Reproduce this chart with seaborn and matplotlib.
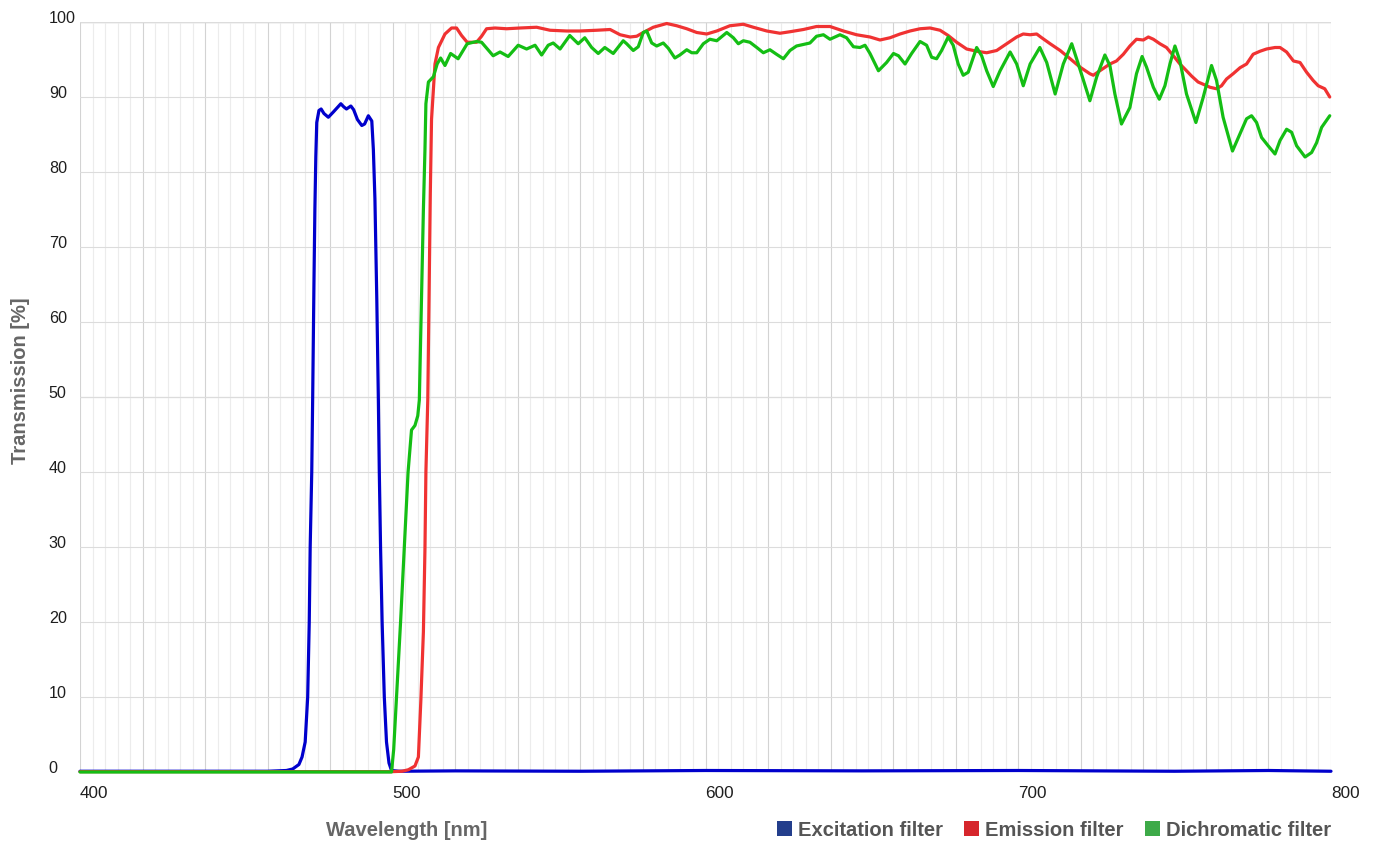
import matplotlib
matplotlib.use("Agg")
import numpy as np
import pandas as pd
import matplotlib.pyplot as plt
import seaborn as sns
from matplotlib.patches import Patch
from matplotlib.ticker import MultipleLocator, FuncFormatter

# ---------------- data ----------------
series_names = ["Excitation filter", "Emission filter", "Dichromatic filter"]

excitation_nm = [400, 430, 460, 466, 468, 470, 471, 472, 472.8, 473.3, 473.6, 474.1, 474.4,
                 474.8, 475.1, 475.4, 475.7, 476.4, 477.1, 478.0, 479.4, 481.0, 483.4, 484.3,
                 485.2, 486.6, 487.5, 488.7, 490.1, 491.0, 492.2, 493.3, 493.8, 494.3, 494.9,
                 495.4, 495.7, 496.1, 496.6, 497.3, 498.0, 498.8, 499.6, 502, 520, 560, 600,
                 650, 700, 750, 780, 800]
excitation_pct = [0.1, 0.1, 0.1, 0.2, 0.4, 1.0, 2.0, 4.0, 10, 20, 30, 40, 50,
                  65, 75, 82, 86.6, 88.2, 88.4, 87.8, 87.3, 88.0, 89.1, 88.7,
                  88.4, 88.8, 88.3, 87.0, 86.2, 86.4, 87.5, 86.8, 83.0, 76.4, 63.0,
                  49.6, 40, 30, 20, 10, 4, 1.2, 0.2, 0.1, 0.15, 0.1, 0.2,
                  0.15, 0.2, 0.1, 0.2, 0.1]

emission_nm = [400, 500, 503, 505, 507.1, 508.2, 509.0, 509.8, 510.3, 510.6, 511.2, 511.6,
               512.0, 512.4, 513.5, 514.6, 516.7, 518.8, 520.4, 522.0, 523.8, 526.8, 528.4,
               530.0, 532.7, 536.4, 540.7, 546.0, 550.3, 555.6, 559.8, 565.2, 569.5, 572.7,
               575.9, 578.0, 580.1, 583.3, 587.6, 590.8, 594.0, 597.2, 600.4, 603.6, 607.8,
               612.1, 615.3, 619.6, 623.8, 627.0, 631.3, 635.5, 639.8, 644.1, 648.3, 652.6,
               655.8, 659.0, 662.2, 665.4, 668.6, 671.8, 675.0, 677.6, 680.3, 683.5, 686.7,
               689.9, 693.1, 696.3, 699.5, 701.6, 703.8, 705.9, 707.5, 710.2, 713.4, 716.6,
               719.7, 722.9, 724.0, 726.1, 729.3, 731.4, 733.6, 735.7, 737.8, 740.0, 741.6,
               743.2, 745.3, 747.4, 749.6, 751.7, 753.8, 755.4, 757.5, 759.7, 761.3, 763.4,
               765.0, 766.6, 768.7, 770.9, 773.0, 775.1, 777.3, 779.4, 782.1, 783.7, 785.8,
               788.0, 790.1, 792.2, 794.3, 795.9, 798.0, 799.6]
emission_pct = [0.05, 0.05, 0.1, 0.3, 0.8, 2.0, 9.7, 18.7, 29.8, 40, 49.6, 63,
                77, 87, 94.4, 96.6, 98.4, 99.2, 99.2, 98.2, 97.3, 97.3, 98.1,
                99.1, 99.2, 99.1, 99.2, 99.3, 98.9, 98.8, 98.8, 98.9, 99.0, 98.3,
                98.0, 98.1, 98.6, 99.3, 99.8, 99.5, 99.1, 98.6, 98.4, 98.8, 99.5,
                99.7, 99.3, 98.8, 98.5, 98.7, 99.0, 99.4, 99.4, 98.8, 98.3, 98.0,
                97.6, 97.9, 98.4, 98.8, 99.1, 99.2, 98.9, 98.2, 97.3, 96.4, 96.1,
                95.9, 96.2, 97.1, 98.0, 98.4, 98.3, 98.4, 97.9, 97.1, 96.2, 95.1,
                94.0, 93.1, 92.9, 93.5, 94.4, 94.8, 95.7, 96.8, 97.7, 97.6, 98.0,
                97.7, 97.1, 96.6, 95.5, 94.4, 93.5, 92.8, 92.0, 91.6, 91.3, 91.1,
                91.5, 92.4, 93.1, 93.9, 94.4, 95.7, 96.1, 96.4, 96.6, 96.6, 96.0,
                94.8, 94.6, 93.3, 92.2, 91.5, 91.1, 90.0]

dichroic_nm = [400, 499.6, 500.3, 501.2, 502.5, 503.7, 504.9, 506.0, 507.1, 508.0, 508.5,
               509.2, 509.8, 510.3, 510.6, 511.4, 513.0, 514.2, 515.3, 516.7, 518.5, 520.9,
               523.8, 526.8, 528.4, 532.1, 534.3, 536.9, 540.1, 542.8, 545.5, 547.6, 549.7,
               551.3, 553.5, 556.6, 559.3, 561.4, 563.6, 565.7, 567.8, 570.5, 573.7, 574.8,
               576.9, 578.5, 580.1, 581.2, 582.8, 584.4, 586.5, 588.1, 590.2, 591.8, 594.0,
               595.6, 597.2, 599.3, 601.4, 603.6, 606.8, 608.9, 610.5, 612.1, 614.2, 616.4,
               618.5, 620.6, 622.7, 624.9, 627.0, 629.1, 631.3, 633.4, 635.5, 637.7, 639.8,
               643.0, 645.1, 647.3, 649.4, 651.0, 652.6, 655.3, 657.9, 660.1, 661.7, 663.8,
               665.9, 668.6, 670.7, 672.3, 673.9, 675.5, 677.6, 679.2, 680.8, 682.4, 684.0,
               686.7, 688.3, 689.9, 692.0, 694.2, 697.4, 699.5, 701.6, 703.8, 706.9, 709.1,
               711.8, 714.4, 717.1, 719.2, 722.9, 725.1, 727.7, 729.3, 730.9, 733.0, 735.7,
               737.8, 739.6, 741.0, 743.2, 745.1, 746.9, 748.5, 750.1, 751.7, 753.8, 756.8,
               759.1, 761.8, 763.4, 765.5, 768.5, 770.9, 773.0, 774.6, 776.2, 777.8, 779.9,
               782.1, 783.7, 785.8, 787.4, 789.0, 791.7, 793.8, 795.4, 797.0, 799.6]
dichroic_pct = [0.0, 0.0, 3, 10, 20, 30, 40, 45.6, 46.2, 47.5, 49.6,
                63, 75, 83, 89.1, 92.0, 92.7, 94.4, 95.2, 94.2, 95.8, 95.1,
                97.1, 97.4, 97.3, 95.5, 96.0, 95.4, 96.9, 96.4, 96.9, 95.6, 96.9,
                97.2, 96.4, 98.2, 97.1, 97.9, 96.6, 95.8, 96.6, 95.8, 97.5, 97.1,
                96.2, 96.7, 98.6, 98.8, 97.2, 96.8, 97.2, 96.5, 95.2, 95.6, 96.3,
                95.9, 95.9, 97.1, 97.7, 97.5, 98.6, 97.9, 97.1, 97.5, 97.3, 96.6,
                95.9, 96.3, 95.7, 95.1, 96.2, 96.8, 97.0, 97.2, 98.1, 98.3, 97.7,
                98.3, 97.9, 96.7, 96.6, 96.9, 95.8, 93.5, 94.6, 95.8, 95.5, 94.4,
                95.8, 97.4, 96.9, 95.3, 95.1, 96.2, 98.0, 96.9, 94.4, 92.9, 93.3,
                96.6, 95.5, 93.5, 91.4, 93.5, 96.0, 94.4, 91.5, 94.4, 96.6, 94.6,
                90.4, 94.4, 97.1, 94.4, 89.5, 92.7, 95.6, 94.2, 90.4, 86.4, 88.6,
                93.1, 95.4, 94.0, 91.3, 89.7, 91.5, 94.4, 96.8, 94.8, 90.4, 86.6,
                89.9, 94.2, 92.2, 87.3, 82.8, 85.1, 87.1, 87.5, 86.6, 84.6, 83.5,
                82.4, 84.2, 85.7, 85.3, 83.5, 82.0, 82.6, 83.9, 85.95, 87.5]

y_ticks = list(range(0, 101, 10))
x_tick_labels = ["400", "500", "600", "700", "800"]

line_colors = ["#0000CC", "#F03232", "#14BE14"]
legend_colors = ["#233E8C", "#D6262C", "#3DAA48"]

# ---------------- styling ----------------
sns.set_theme(style="white")
plt.rcParams["font.family"] = ["Liberation Sans", "DejaVu Sans"]

W, H = 1374, 845
fig = plt.figure(figsize=(W / 100, H / 100), dpi=100)
L, R, T, B = 80, 1331, 23, 773
ax = fig.add_axes([L / W, 1 - B / H, (R - L) / W, (B - T) / H])

series = [(excitation_nm, excitation_pct), (emission_nm, emission_pct), (dichroic_nm, dichroic_pct)]
for (nm, pct), name, col in zip(series, series_names, line_colors):
    df = pd.DataFrame({"nm": nm, "pct": pct})
    sns.lineplot(data=df, x="nm", y="pct", color=col, lw=2.3, estimator=None,
                 sort=False, ax=ax, legend=False)
    ax.lines[-1].set_clip_on(False)
    ax.lines[-1].set_solid_joinstyle("round")
    ax.lines[-1].set_solid_capstyle("round")

ax.set_xlim(400, 800)
ax.set_ylim(0, 100)

for s in ax.spines.values():
    s.set_visible(False)

ax.xaxis.set_major_locator(MultipleLocator(20))
ax.xaxis.set_minor_locator(MultipleLocator(4))
ax.xaxis.set_major_formatter(FuncFormatter(lambda v, p: x_tick_labels[int(round((v - 400) / 100))]
                                           if abs(v % 100) < 1e-6 else ""))
ax.set_yticks(y_ticks)
ax.set_yticklabels([str(v) for v in y_ticks])

ax.grid(which="minor", axis="x", color="#ececec", lw=0.8)
ax.grid(which="major", axis="x", color="#d3d3d3", lw=0.8)
ax.grid(which="major", axis="y", color="#dcdcdc", lw=0.8)
ax.axhline(50, color="#b8b8b8", lw=0.8, zorder=0.5)
ax.axhline(100, color="#c8c8c8", lw=1.0, zorder=0.5)
ax.set_axisbelow(True)

ax.tick_params(axis="both", which="both", length=0)
ax.tick_params(axis="x", pad=9.5, labelsize=12.3, labelcolor="#1e1e1e")
ax.tick_params(axis="y", pad=22.5, labelsize=11.6, labelcolor="#1e1e1e")

ax.set_xlabel("Wavelength [nm]", fontsize=14.5, fontweight="bold", color="#666666")
ax.set_ylabel("Transmission [%]", fontsize=14.5, fontweight="bold", color="#666666")
ax.xaxis.set_label_coords((407 - L) / (R - L), (B - 831) / (B - T))
ax.xaxis.label.set_va("center")
ax.yaxis.set_label_coords((21 - L) / (R - L), (B - 381) / (B - T))
ax.yaxis.label.set_va("center")

handles = [Patch(facecolor=c, edgecolor="none", label=n) for c, n in zip(legend_colors, series_names)]
leg = ax.legend(handles=handles, loc="center right", bbox_to_anchor=(1.0, (B - 831) / (B - T)),
                ncol=3, frameon=False, handlelength=0.75, handleheight=0.75,
                handletextpad=0.3, columnspacing=1.05, borderpad=0, borderaxespad=0,
                prop={"family": ["Liberation Sans", "DejaVu Sans"], "weight": "bold", "size": 14.5})
for t in leg.get_texts():
    t.set_color("#555555")

for lab in ax.get_xticklabels():
    lab.set_horizontalalignment("left")
for lab in ax.get_yticklabels():
    lab.set_horizontalalignment("left")
    lab.set_verticalalignment("baseline")

fig.savefig("out.png", dpi=100)
